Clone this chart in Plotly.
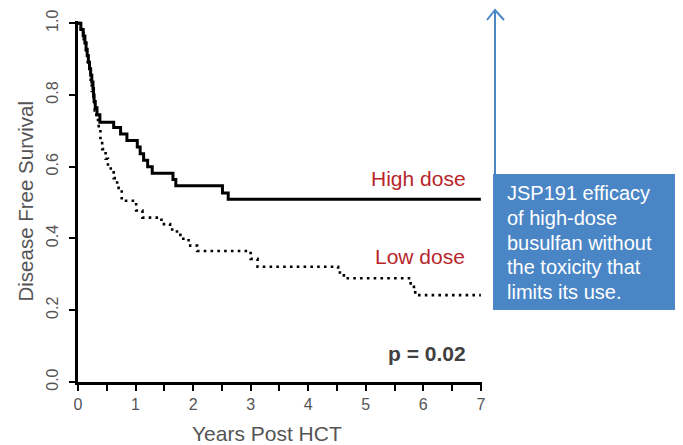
import plotly.graph_objects as go

# High dose (solid) Kaplan-Meier steps
high_t = [0, 0.05, 0.09, 0.12, 0.14, 0.16, 0.18, 0.20, 0.22, 0.24, 0.26, 0.27, 0.28, 0.30, 0.33, 0.38,
          0.62, 0.74, 0.85, 1.03, 1.08, 1.14, 1.21, 1.29, 1.65, 1.70, 2.51, 2.61, 7.0]
high_s = [1.0, 0.982, 0.964, 0.945, 0.927, 0.909, 0.891, 0.873, 0.855, 0.836, 0.818, 0.800, 0.782, 0.764, 0.745, 0.724,
          0.709, 0.691, 0.673, 0.655, 0.636, 0.618, 0.600, 0.582, 0.564, 0.547, 0.527, 0.509, 0.509]

# Low dose (dotted) Kaplan-Meier steps
low_t = [0, 0.05, 0.10, 0.14, 0.17, 0.20, 0.22, 0.24, 0.27, 0.29, 0.32, 0.36, 0.39, 0.42, 0.48, 0.52,
         0.62, 0.68, 0.76, 1.01, 1.12, 1.45, 1.60, 1.72, 1.83, 1.95, 2.07, 3.00, 3.12, 4.52, 4.62, 5.78, 5.86, 7.0]
low_s = [1.0, 0.973, 0.946, 0.919, 0.892, 0.865, 0.838, 0.811, 0.784, 0.757, 0.730, 0.703, 0.676, 0.649, 0.622, 0.595,
         0.568, 0.541, 0.505, 0.478, 0.458, 0.440, 0.425, 0.410, 0.395, 0.380, 0.365, 0.343, 0.321, 0.305, 0.289, 0.265, 0.242, 0.242]

x_ticks = [0, 1, 2, 3, 4, 5, 6, 7]
y_ticks = [0.0, 0.2, 0.4, 0.6, 0.8, 1.0]

box_lines = ["JSP191 efficacy", "of high-dose", "busulfan without", "the toxicity that", "limits its use."]

FONT = "Liberation Sans, Arial, sans-serif"
BLUE = "#4a86c6"
RED = "#b8262b"
GRAY = "#555555"

fig = go.Figure()
fig.add_trace(go.Scatter(x=low_t, y=low_s, mode="lines", line_shape="hv",
                         line=dict(color="black", width=2.6, dash="2.6px,4.2px"),
                         showlegend=False, hoverinfo="skip"))
fig.add_trace(go.Scatter(x=high_t, y=high_s, mode="lines", line_shape="hv",
                         line=dict(color="black", width=3),
                         showlegend=False, hoverinfo="skip"))

# the page body has an 8px margin, so the figure margins are reduced by 8px
fig.update_layout(
    width=683, height=445,
    margin=dict(l=70, r=209, t=13, b=71, autoexpand=False),
    paper_bgcolor="white", plot_bgcolor="white",
    font=dict(family=FONT, color=GRAY),
    xaxis=dict(range=[0, 7.02], tickvals=x_ticks, ticktext=[str(v) for v in x_ticks], automargin=False,
               showgrid=False, zeroline=False, showline=True, linecolor="black", linewidth=2.5,
               ticks="outside", ticklen=6, tickwidth=2, tickcolor="black",
               tickfont=dict(size=16, color=GRAY), ticklabelstandoff=0,
               minor=dict(dtick=0.5, tick0=0, ticks="outside", ticklen=6, tickwidth=2, tickcolor="black", showgrid=False)),
    yaxis=dict(range=[0, 1.006], tickvals=y_ticks, ticktext=["%.1f" % v for v in y_ticks], automargin=False,
               showgrid=False, zeroline=False, showline=True, linecolor="black", linewidth=2.5,
               ticks="outside", ticklen=6, tickwidth=2, tickcolor="black", tickangle=-90,
               tickfont=dict(size=16, color=GRAY), ticklabelstandoff=5),
)

# screen-pixel -> paper helpers (plot area spans screen x 78..482, y 21..382)
def px_x(p):
    return (p - 78) / 404

def px_y(p):
    return (382 - p) / 361

# axis titles
fig.add_annotation(text="Years Post HCT", xref="paper", yref="paper",
                   x=px_x(267), y=px_y(433), xanchor="center", yanchor="middle",
                   showarrow=False, font=dict(size=21, color=GRAY))
fig.add_annotation(text="Disease Free Survival", xref="paper", yref="paper",
                   x=px_x(25), y=0.5, xanchor="center", yanchor="middle", textangle=-90,
                   showarrow=False, font=dict(size=20.5, color=GRAY))

# curve labels
fig.add_annotation(text="High dose", x=5.92, y=0.567, showarrow=False,
                   font=dict(size=21, color=RED))
fig.add_annotation(text="Low dose", x=5.95, y=0.351, showarrow=False,
                   font=dict(size=21, color=RED))
fig.add_annotation(text="<b>p = 0.02</b>", x=6.06, y=0.08, showarrow=False,
                   font=dict(size=21, color="#404040"))

# blue callout box and arrow
fig.add_shape(type="rect", xref="paper", yref="paper",
              x0=px_x(493), x1=px_x(678), y0=px_y(310), y1=px_y(174),
              fillcolor=BLUE, line=dict(width=0), layer="above")
fig.add_shape(type="line", xref="paper", yref="paper",
              x0=px_x(495), x1=px_x(495), y0=px_y(310), y1=px_y(10),
              line=dict(color=BLUE, width=2))
fig.add_shape(type="path", xref="paper", yref="paper",
              path="M %f,%f L %f,%f L %f,%f" % (px_x(487), px_y(20), px_x(495), px_y(10), px_x(504), px_y(20)),
              line=dict(color=BLUE, width=2))
for i, line in enumerate(box_lines):
    fig.add_annotation(text=line, xref="paper", yref="paper", x=px_x(505), y=px_y(193 + 24.8 * i),
                       xanchor="left", yanchor="middle", align="left", showarrow=False,
                       font=dict(size=20, color="white"))

fig.write_html("out.html")
